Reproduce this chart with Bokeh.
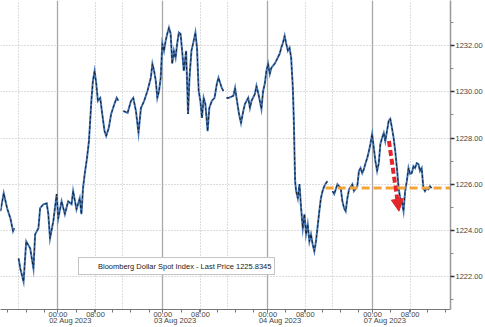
import math
from bokeh.plotting import figure
from bokeh.models import (LinearAxis, FixedTicker, Grid, Range1d, Label, Arrow,
                          NormalHead, Legend, LegendItem, PrintfTickFormatter)
from bokeh.embed import file_html
from bokeh.resources import INLINE

NaN = float("nan")

# trading-session hours (day 0 = 02 Aug 00:00, one session ~23h, weekend removed)
hours = [
    -12.61, -11.89, -11.15, -10.43, -9.85, -9.57, NaN,
    -8.63, -8.26, -7.54, -6.96, -6.09, -5.37, -5.0, -4.28, -3.91, -3.20, -2.46, -2.11,
    -1.74, -1.02, -0.28, 0.07, 0.80, 1.52, 2.24, 2.98, 3.33, 4.07, 4.78, 5.15, 5.50,
    5.87, 6.37, 6.80, 7.33, 7.67, 8.04, 8.41, 8.76, 9.28, 9.72, 10.22, 10.59, 11.15,
    11.67, 12.39, 12.89, 13.26, NaN,
    14.35, 15.28, 16.02, 16.52, 17.11, 17.67, 18.20, 18.91, 19.63, 20.37, 20.72, 21.09,
    21.46, 21.80, 22.17, 22.54, 22.89, 23.26, 23.63, 23.98, 24.35, 24.72, 25.07, 25.43,
    25.80, 26.15, 26.52, 26.89, 27.24, 27.61, 28.11, 28.54, 28.85, 29.28, 29.78, 30.15,
    30.50, 30.87, 31.24, 31.59, 31.96, 32.33, 32.83, 33.20, 33.76, 34.35, 34.85, 35.22,
    35.93, 36.30, NaN,
    36.96, 37.39, 38.48, 38.85, 39.20, 39.72, 40.15, 40.65, 41.02, 41.74, 42.11, 42.46,
    43.20, 43.54, 43.91, 44.28, 44.63, 45.0, 45.37, 45.72, 46.09, 46.46, 46.80, 47.54,
    47.89, 48.63, 48.98, 49.35, 49.72, 50.07, 50.43, 50.80, 51.15, 51.52, 51.74, 51.89,
    52.02, 52.24, 52.61, 52.98, 53.33, 53.70, 54.07, 54.41, 54.78, 55.15, 55.50, 55.87,
    56.24, 56.59, 56.96, 57.33, 57.67, 58.04, 58.41, 58.76, 59.13, NaN,
    60.22, 60.59, 61.30, 62.02, 62.39, 62.76, 63.11, 63.48, 63.85, 64.57, 64.93, 65.65,
    66.02, 66.37, 66.74, 67.11, 67.46, 67.83, 68.20, 68.54, 68.91, 69.28, 69.63, 70.0,
    70.37, 70.72, 71.09, 71.46, 71.80, 72.17, 72.54, 72.89, 73.26, 73.63, 73.98, 74.35,
    74.72, 75.07, 75.43, 75.80, 76.15, 76.52, 76.89, 77.24, 77.61, 77.98, 78.33, 78.70,
    79.07, 79.41, 79.78, 80.15, 80.50, 80.87, 81.24, 81.59, 81.96,
]
price = [
    1224.83, 1225.61, 1224.96, 1224.52, 1223.96, 1224.09, NaN,
    1222.78, 1222.35, 1221.78, 1223.52, 1223.22, 1222.35, 1223.83, 1224.09, 1224.96,
    1225.13, 1225.17, 1224.70, 1223.65, 1224.39, 1225.57, 1224.52, 1225.26, 1224.70,
    1225.26, 1225.13, 1225.70, 1224.91, 1225.39, 1224.70, 1225.83, 1226.44, 1227.13,
    1227.87, 1229.61, 1230.48, 1230.91, 1230.35, 1229.61, 1229.74, 1229.04, 1228.30,
    1228.09, 1228.44, 1229.04, 1229.48, 1229.74, 1229.61, NaN,
    1229.17, 1229.09, 1229.61, 1229.74, 1229.17, 1228.22, 1229.30, 1229.61, 1230.04,
    1230.61, 1231.22, 1230.91, 1230.48, 1229.74, 1230.04, 1230.61, 1232.09, 1231.78,
    1232.22, 1232.52, 1232.78, 1232.52, 1231.22, 1231.78, 1231.48, 1232.09, 1232.57,
    1232.52, 1231.78, 1230.91, 1231.78, 1229.04, 1230.61, 1231.78, 1232.22, 1232.57,
    1231.91, 1230.04, 1229.61, 1228.87, 1229.74, 1229.48, 1228.30, 1229.30, 1229.61,
    1229.74, 1230.35, 1230.61, 1230.17, 1230.04, NaN,
    1229.74, 1229.74, 1229.83, 1230.17, 1229.70, 1229.04, 1228.65, 1229.17, 1229.48,
    1229.74, 1229.30, 1229.61, 1229.91, 1230.26, 1229.96, 1229.61, 1229.26, 1230.04,
    1230.35, 1230.91, 1231.22, 1230.78, 1231.04, 1231.22, 1231.35, 1231.65, 1231.91,
    1232.13, 1232.43, 1232.09, 1231.78, 1231.91, 1231.48, 1230.17, 1228.74, 1227.30,
    1226.13, 1225.70, 1225.39, 1226.00, 1224.96, 1224.09, 1224.70, 1223.83, 1224.26,
    1223.52, 1223.83, 1223.39, 1223.09, 1223.52, 1224.17, 1224.83, 1225.39, 1225.70,
    1225.91, 1226.04, 1226.13, NaN,
    1225.70, 1225.57, 1226.00, 1225.83, 1225.26, 1224.96, 1224.83, 1225.39, 1225.78,
    1226.00, 1225.70, 1225.91, 1226.57, 1226.70, 1226.48, 1226.65, 1226.91, 1227.13,
    1227.43, 1227.74, 1228.17, 1227.57, 1227.00, 1226.57, 1226.91, 1227.74, 1228.00,
    1228.22, 1227.87, 1228.30, 1228.74, 1228.83, 1228.44, 1228.00, 1227.43, 1226.70,
    1225.83, 1225.39, 1225.26, 1224.83, 1225.70, 1226.13, 1226.70, 1226.44, 1226.48,
    1226.78, 1226.70, 1226.91, 1226.87, 1226.57, 1226.70, 1225.83, 1225.70, 1225.83,
    1225.78, 1225.91, 1225.83,
]

last_price = 1225.8345
last_label = "1225.83"
legend_text = "Bloomberg Dollar Spot Index - Last Price 1225.8345"

day_starts = [0, 23, 46, 69]
day_labels = ["02 Aug 2023", "03 Aug 2023", "04 Aug 2023", "07 Aug 2023"]
time_labels = ["00:00", "08:00"]
y_ticks = [1222, 1224, 1226, 1228, 1230, 1232]
y_minor = [1221, 1223, 1225, 1227, 1229, 1231, 1233]

level_start = 58.7                   # when price returned to the last level
arrow_from = (72.6, 1227.87)
arrow_to = (74.8, 1224.83)

x0, x1 = -12.6, 86.1
y0, y1 = 1220.57, 1233.96

FONT = "Liberation Sans"

p = figure(width=485, height=327, output_backend="svg", toolbar_location=None,
           x_range=Range1d(x0, x1), y_range=Range1d(y0, y1),
           y_axis_location="right", x_axis_location="below",
           min_border_left=0, min_border_top=0, min_border_right=0, min_border_bottom=0)
p.outline_line_color = None
p.xgrid.visible = False
p.ygrid.visible = False
p.background_fill_color = "white"

# --- grids
solid_grid = Grid(dimension=0, ticker=FixedTicker(ticks=day_starts),
                  grid_line_color="#a8a8a8", grid_line_width=1.3)
dot_x = [d + 8.25 for d in day_starts] + [d - 8.75 for d in day_starts]
dot_grid = Grid(dimension=0, ticker=FixedTicker(ticks=dot_x),
                grid_line_color="#b8b8b8", grid_line_dash="1 2", grid_line_width=1)
y_grid = Grid(dimension=1, ticker=FixedTicker(ticks=y_ticks),
              grid_line_color="#b8b8b8", grid_line_dash="1 2", grid_line_width=1)
for g in (solid_grid, dot_grid, y_grid):
    p.add_layout(g)

# --- bottom axis 1 : times
tick_pos = []
overrides = {}
for d in day_starts:
    for off, lab in zip([0, 8.25], time_labels):
        tick_pos.append(d + off)
        overrides[d + off] = lab
minor = [d + h for d in [-23] + day_starts for h in (0, 4, 8, 12, 16, 20) if x0 < d + h < x1]
xa = p.xaxis[0]
xa.ticker = FixedTicker(ticks=tick_pos, minor_ticks=minor)
xa.major_label_overrides = overrides
xa.major_label_text_font = FONT
xa.major_label_text_font_size = "7.5px"
xa.major_label_text_color = "#444444"
xa.major_label_standoff = -3
xa.major_tick_out = 3
xa.major_tick_in = 0
xa.minor_tick_out = 3
xa.minor_tick_in = 0
xa.axis_line_color = "#777777"
xa.major_tick_line_color = "#777777"
xa.minor_tick_line_color = "#777777"

# --- bottom axis 2 : dates
date_pos = [d + 2.75 for d in day_starts]
xb = LinearAxis(ticker=FixedTicker(ticks=date_pos, minor_ticks=[]),
                major_label_overrides={k: v for k, v in zip(date_pos, day_labels)},
                axis_line_color=None, major_tick_line_color=None, minor_tick_line_color=None,
                major_tick_out=0, major_tick_in=0, major_label_standoff=-6,
                major_label_text_font=FONT, major_label_text_font_size="7.5px",
                major_label_text_color="#444444")
p.add_layout(xb, "below")

# --- right y axis
ya = p.yaxis[0]
ya.ticker = FixedTicker(ticks=y_ticks, minor_ticks=y_minor)
ya.formatter = PrintfTickFormatter(format="%.2f")
ya.major_label_text_font = FONT
ya.major_label_text_font_size = "7.5px"
ya.major_label_text_color = "#444444"
ya.major_label_standoff = 1
ya.major_tick_out = 4
ya.major_tick_in = 0
ya.minor_tick_out = 3
ya.minor_tick_in = 0
ya.axis_line_color = "#999999"
ya.axis_line_width = 1.5
ya.major_tick_line_color = "#333333"
ya.major_tick_line_width = 1.5
ya.minor_tick_line_color = "#888888"

# --- series
p.line(hours, price, line_color="#4678b8", line_width=2.0, line_join="miter")
p.line(hours, price, line_color="#16202c", line_width=1.0, line_dash="3 2", line_join="miter")

# --- reference level
p.line([level_start, x1], [last_price, last_price], line_color="#f2a33a",
       line_width=3, line_dash="8 4")

# --- red arrow
p.add_layout(Arrow(x_start=arrow_from[0], y_start=arrow_from[1],
                   x_end=arrow_to[0], y_end=arrow_to[1],
                   line_color="#e3262a", line_width=4, line_dash="6 3",
                   end=NormalHead(size=12, fill_color="#e3262a", line_color="#e3262a")))

# --- last price tag
p.add_layout(Label(x=x1, y=last_price, x_offset=1, text=last_label,
                   text_font=FONT, text_font_size="7.5px", text_color="white",
                   text_baseline="middle", text_align="left",
                   background_fill_color="#111111", padding=2))

# --- legend
sq = p.scatter([], [], marker="square", size=7, fill_color="black", line_color="black")
leg = Legend(items=[LegendItem(label=legend_text, renderers=[sq])],
             location=(78, 34), orientation="vertical",
             label_text_font=FONT, label_text_font_size="7.5px", label_text_color="#222222",
             glyph_width=14, glyph_height=10, label_standoff=2, label_height=10,
             padding=3, margin=0, spacing=0,
             border_line_color="#8a8a8a", border_line_width=1,
             background_fill_color="white", background_fill_alpha=1.0)
p.add_layout(leg)

open("out.html", "w").write(file_html(p, INLINE))
